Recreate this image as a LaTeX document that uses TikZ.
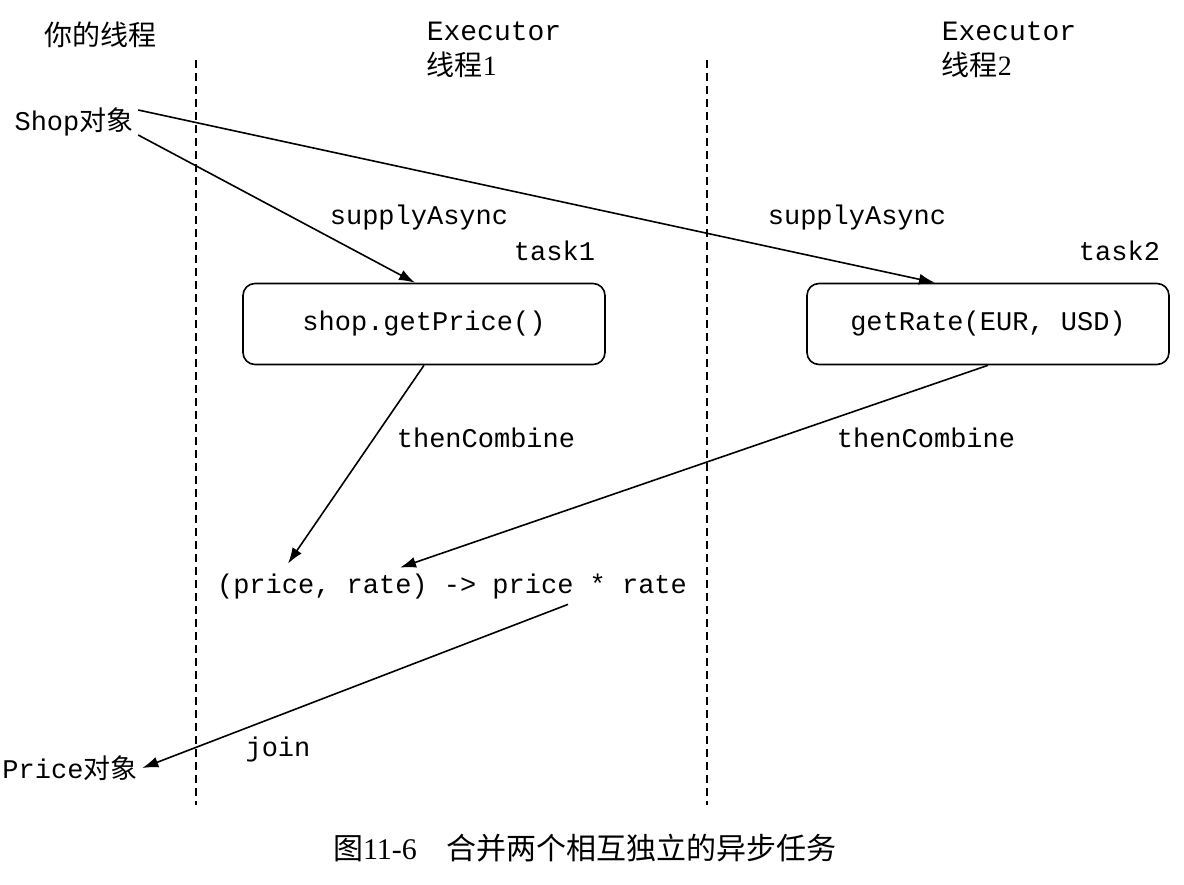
\documentclass[tikz,border=0pt]{standalone}
\usepackage{fontspec}
\setmainfont{Liberation Serif}
\setmonofont{Liberation Mono}
\newfontfamily\cjk{Noto Sans CJK SC}
\usetikzlibrary{positioning, arrows.meta}

\tikzset{
  codetext/.style={font=\ttfamily\fontsize{13.5}{16}\selectfont, inner sep=2pt},
  head/.style={font=\fontsize{14}{17.5}\selectfont, inner sep=2pt},
  taskbox/.style={draw, rounded corners=6pt, minimum width=181pt, minimum height=40.5pt,
    font=\ttfamily\fontsize{13.5}{16}\selectfont},
  lane/.style={line width=0.7pt, dash pattern=on 4pt off 2.5pt},
}

\begin{document}
\begin{tikzpicture}[x=0.5pt, y=-0.5pt, line width=0.8pt, >={Latex[length=8pt,width=5.5pt]}]
        \useasboundingbox (0,0) rectangle (1184,884);

        % thread headers
        \node[head]                                  (mine)  at (100,35) {\cjk 你的线程};
        \node[head, anchor=west, align=left]         (exec1) at (422,50) {{\ttfamily Executor}\\{\cjk 线程}1};
        \node[head, anchor=west, align=left]         (exec2) at (937,50) {{\ttfamily Executor}\\{\cjk 线程}2};

        % lanes
        \draw[lane] (196,60) -- (196,805);
        \draw[lane] (707,60) -- (707,805);

        \node[codetext]                              (shop)     at (74,122)  {Shop{\cjk 对象}};
        \node[taskbox]                               (box1)     at (424,324) {shop.getPrice()};
        \node[taskbox]                               (box2)     at (988,324) {getRate(EUR, USD)};
        \node[codetext, above left=8.5pt and 3pt of box1.north east]   (task1) {task1};
        \node[codetext, above left=8.5pt and 2.5pt of box2.north east] (task2) {task2};
        \node[codetext]                              (supply1)  at (419,218) {supplyAsync};
        \node[codetext]                              (supply2)  at (857,218) {supplyAsync};
        \node[codetext]                              (combine1) at (486,438) {thenCombine};
        \node[codetext]                              (combine2) at (926,438) {thenCombine};
        \node[codetext]                              (expr)     at (452,587) {(price, rate) -> price * rate};
        \node[codetext]                              (join)     at (278,750) {join};
        \node[codetext]                              (price)    at (70,768)  {Price{\cjk 对象}};
        \node[font=\fontsize{15}{18}\selectfont]     (caption)  at (585,848) {{\cjk 图}11-6\hspace{1em}{\cjk 合并两个相互独立的异步任务}};

        \draw[->] ([yshift=-6.5pt]shop.east) -- ([xshift=-4.5pt]box1.north);
        \draw[->] ([yshift=6pt]shop.east)    -- ([xshift=-26.5pt]box2.north);
        \draw[->] (box1.south) -- ([xshift=-82pt,yshift=3pt]expr.north);
        \draw[->] (box2.south) -- ([xshift=-26pt,yshift=1pt]expr.north);
        \draw[->] ([xshift=58pt]expr.south) -- (price.east);
    \end{tikzpicture}
\end{document}
